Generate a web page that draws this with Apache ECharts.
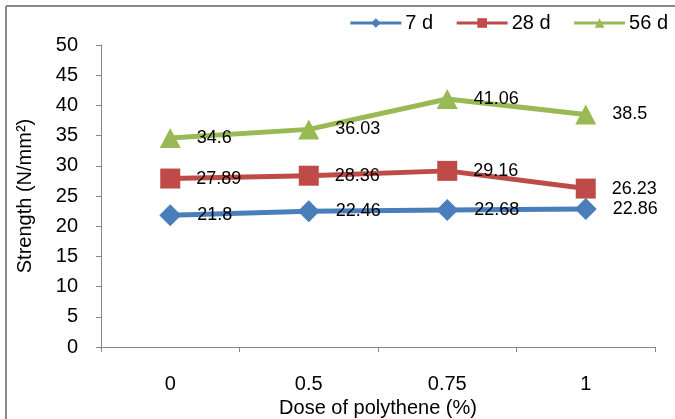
<!DOCTYPE html>
<html>
<head>
<meta charset="utf-8">
<script src="https://cdn.jsdelivr.net/npm/echarts@6/dist/echarts.min.js"></script>
<style>
html,body{margin:0;padding:0;background:#fff;}
#chart{width:675px;height:419px;}
</style>
</head>
<body>
<div id="chart"></div>
<script>
const categories = ['0', '0.5', '0.75', '1'];
const seriesNames = ['7 d', '28 d', '56 d'];
const values7d = [21.8, 22.46, 22.68, 22.86];
const values28d = [27.89, 28.36, 29.16, 26.23];
const values56d = [34.6, 36.03, 41.06, 38.5];
const yTicks = { min: 0, max: 50, interval: 5 };
const titleText = 'Strength vs dose of polythene (in concrete)';
const xName = 'Dose of polythene (%)';
const yName = 'Strength (N/mm\u00B2)';

const FONT = 'Liberation Sans, Arial, sans-serif';
const AXIS_GRAY = '#868686';

const chart = echarts.init(document.getElementById('chart'), null, { renderer: 'canvas' });

function lineSeries(name, data, color, symbol, size) {
  return {
    name: name,
    type: 'line',
    data: data,
    symbol: symbol,
    symbolSize: size,
    showAllSymbol: true,
    lineStyle: { color: color, width: 5 },
    itemStyle: { color: color },
    label: {
      show: true,
      position: 'right',
      distance: 16,
      color: '#000',
      fontSize: 18,
      fontFamily: FONT
    },
    emphasis: { disabled: true },
    animation: false
  };
}

chart.setOption({
  animation: false,
  backgroundColor: '#fff',
  textStyle: { fontFamily: FONT },
  graphic: [
    {
      type: 'text',
      left: 'center',
      top: -20,
      style: { text: titleText, fontSize: 20, fontFamily: FONT, fill: '#000' },
      silent: true
    },
    {
      type: 'line',
      shape: { x1: 6, y1: 6, x2: 675, y2: 6 },
      style: { stroke: '#8a8a8a', lineWidth: 2 },
      silent: true
    },
    {
      type: 'line',
      shape: { x1: 6, y1: 6, x2: 6, y2: 419 },
      style: { stroke: '#8a8a8a', lineWidth: 2 },
      silent: true
    }
  ],
  legend: {
    data: seriesNames,
    right: 7,
    top: 13,
    padding: 0,
    itemWidth: 51,
    itemHeight: 12,
    itemGap: 22,
    lineStyle: { width: 3 },
    textStyle: { fontSize: 20, color: '#000', fontFamily: FONT, padding: [0, 0, 0, -1] }
  },
  grid: { left: 101, right: 20, top: 45, bottom: 72, containLabel: false, outerBoundsMode: 'none' },
  xAxis: {
    type: 'category',
    data: categories,
    boundaryGap: true,
    name: xName,
    nameLocation: 'middle',
    nameGap: 49,
    nameTextStyle: { fontSize: 20, color: '#000', fontFamily: FONT },
    axisLine: { show: true, lineStyle: { color: AXIS_GRAY, width: 1 } },
    axisTick: { show: true, length: 5, lineStyle: { color: AXIS_GRAY } },
    axisLabel: { margin: 27, fontSize: 20, color: '#000', fontFamily: FONT },
    splitLine: { show: false }
  },
  yAxis: {
    type: 'value',
    min: yTicks.min,
    max: yTicks.max,
    interval: yTicks.interval,
    name: yName,
    nameLocation: 'middle',
    nameGap: 66,
    nameTextStyle: { fontSize: 20, color: '#000', fontFamily: FONT },
    axisLine: { show: true, lineStyle: { color: AXIS_GRAY, width: 1 } },
    axisTick: { show: true, length: 5, lineStyle: { color: AXIS_GRAY } },
    axisLabel: { margin: 23, fontSize: 20, color: '#000', fontFamily: FONT },
    splitLine: { show: false }
  },
  series: [
    lineSeries(seriesNames[0], values7d, '#4a7ebb', 'diamond', [22, 22]),
    lineSeries(seriesNames[1], values28d, '#be4b48', 'rect', [20, 20]),
    lineSeries(seriesNames[2], values56d, '#98b954', 'triangle', [21, 20])
  ]
});
</script>
</body>
</html>
